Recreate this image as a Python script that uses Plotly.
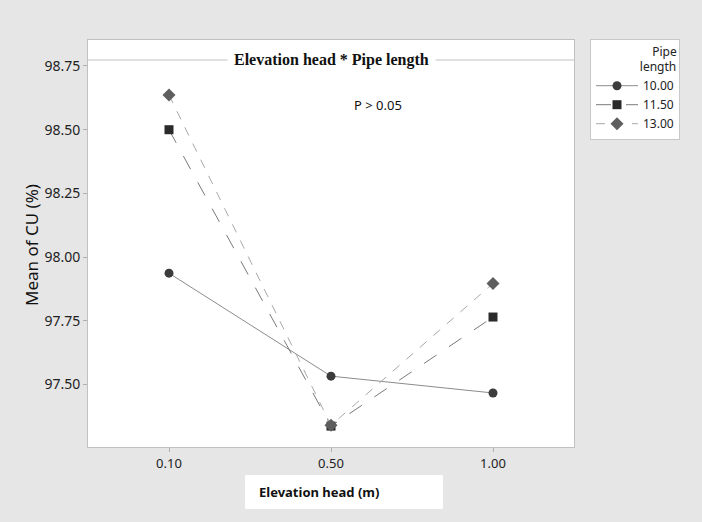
import plotly.graph_objects as go

# ---- data ----
elevation_head = ["0.10", "0.50", "1.00"]
pipe_lengths = ["10.00", "11.50", "13.00"]
cu_10_00 = [97.937, 97.533, 97.467]
cu_11_50 = [98.500, 97.337, 97.765]
cu_13_00 = [98.636, 97.340, 97.897]
y_ticks = [97.50, 97.75, 98.00, 98.25, 98.50, 98.75]

series = [
    (pipe_lengths[0], cu_10_00, dict(color="#8c8c8c", width=1, dash="solid"),
     dict(symbol="circle", size=9, color="#3c3c3c")),
    (pipe_lengths[1], cu_11_50, dict(color="#7a7a7a", width=1, dash="longdash"),
     dict(symbol="square", size=9, color="#2a2a2a")),
    (pipe_lengths[2], cu_13_00, dict(color="#a8a8a8", width=1, dash="dash"),
     dict(symbol="diamond", size=10, color="#5e5e5e")),
]

fig = go.Figure()
for name, vals, line, marker in series:
    fig.add_trace(go.Scatter(
        x=elevation_head, y=vals, name=name, mode="lines+markers",
        line=line, marker=marker,
    ))

# pixel helpers for layout decorations
L, R, T, B = 88, 574, 40, 447
W, H = R - L, B - T
def px(x):
    return (x - L) / W
def py(y):
    return (B - y) / H

font_sans = "Noto Sans, Open Sans, sans-serif"

fig.update_layout(
    width=702, height=522,
    margin=dict(l=L, r=702 - R, t=T, b=522 - B),
    paper_bgcolor="#e6e6e6",
    plot_bgcolor="white",
    font=dict(family=font_sans, size=13, color="#222222"),
    showlegend=True,
    legend=dict(
        x=px(590), y=py(39), xanchor="left", yanchor="top",
        bgcolor="white", bordercolor="#c8c8c8", borderwidth=1,
        font=dict(family=font_sans, size=12, color="#222222"),
        title=dict(text="&nbsp;&nbsp;&nbsp;&nbsp;Pipe<br>length", side="top right",
                   font=dict(family=font_sans, size=12, color="#222222")),
        itemwidth=42, tracegroupgap=0,
    ),
    xaxis=dict(
        type="category", range=[-0.5, 2.5],
        showline=True, linecolor="#c0c0c0", linewidth=1, mirror=True,
        ticks="outside", ticklen=4, tickcolor="#b0b0b0",
        showgrid=False, zeroline=False,
        tickfont=dict(size=13, color="#222222"),
    ),
    yaxis=dict(
        range=[97.255, 98.852],
        tickvals=y_ticks, tickformat=".2f",
        showline=True, linecolor="#c0c0c0", linewidth=1, mirror=True,
        ticks="outside", ticklen=4, tickcolor="#b0b0b0",
        showgrid=False, zeroline=False,
        tickfont=dict(size=14, color="#222222"),
    ),
)

# title line and title
fig.add_shape(type="line", xref="paper", yref="paper",
              x0=0, x1=1, y0=py(60), y1=py(60),
              line=dict(color="#c0c0c0", width=1))
fig.add_annotation(
    text="<b>Elevation head * Pipe length</b>", xref="paper", yref="paper",
    x=0.5, y=py(60), xanchor="center", yanchor="middle", showarrow=False,
    bgcolor="white", borderpad=6,
    font=dict(family="Liberation Serif, Times New Roman, serif", size=16, color="#111111"),
)
fig.add_annotation(
    text="P > 0.05", xref="paper", yref="paper",
    x=px(378), y=py(105), xanchor="center", yanchor="middle", showarrow=False,
    font=dict(family=font_sans, size=13, color="#111111"),
)

# y-axis title
fig.add_annotation(
    text="Mean of CU (%)", xref="paper", yref="paper",
    x=px(31), y=py(245), xanchor="center", yanchor="middle", showarrow=False,
    textangle=-90, font=dict(family=font_sans, size=17, color="#111111"),
)

# x-axis title with white box
fig.add_shape(type="rect", xref="paper", yref="paper",
              x0=px(245), x1=px(443), y0=py(475), y1=py(509),
              fillcolor="white", line=dict(width=0), layer="above")
fig.add_annotation(
    text="<b>Elevation head (m)</b>", xref="paper", yref="paper",
    x=px(257), y=py(492), xanchor="left", yanchor="middle", showarrow=False,
    font=dict(family=font_sans, size=13, color="#111111"),
)

fig.write_html("out.html")
